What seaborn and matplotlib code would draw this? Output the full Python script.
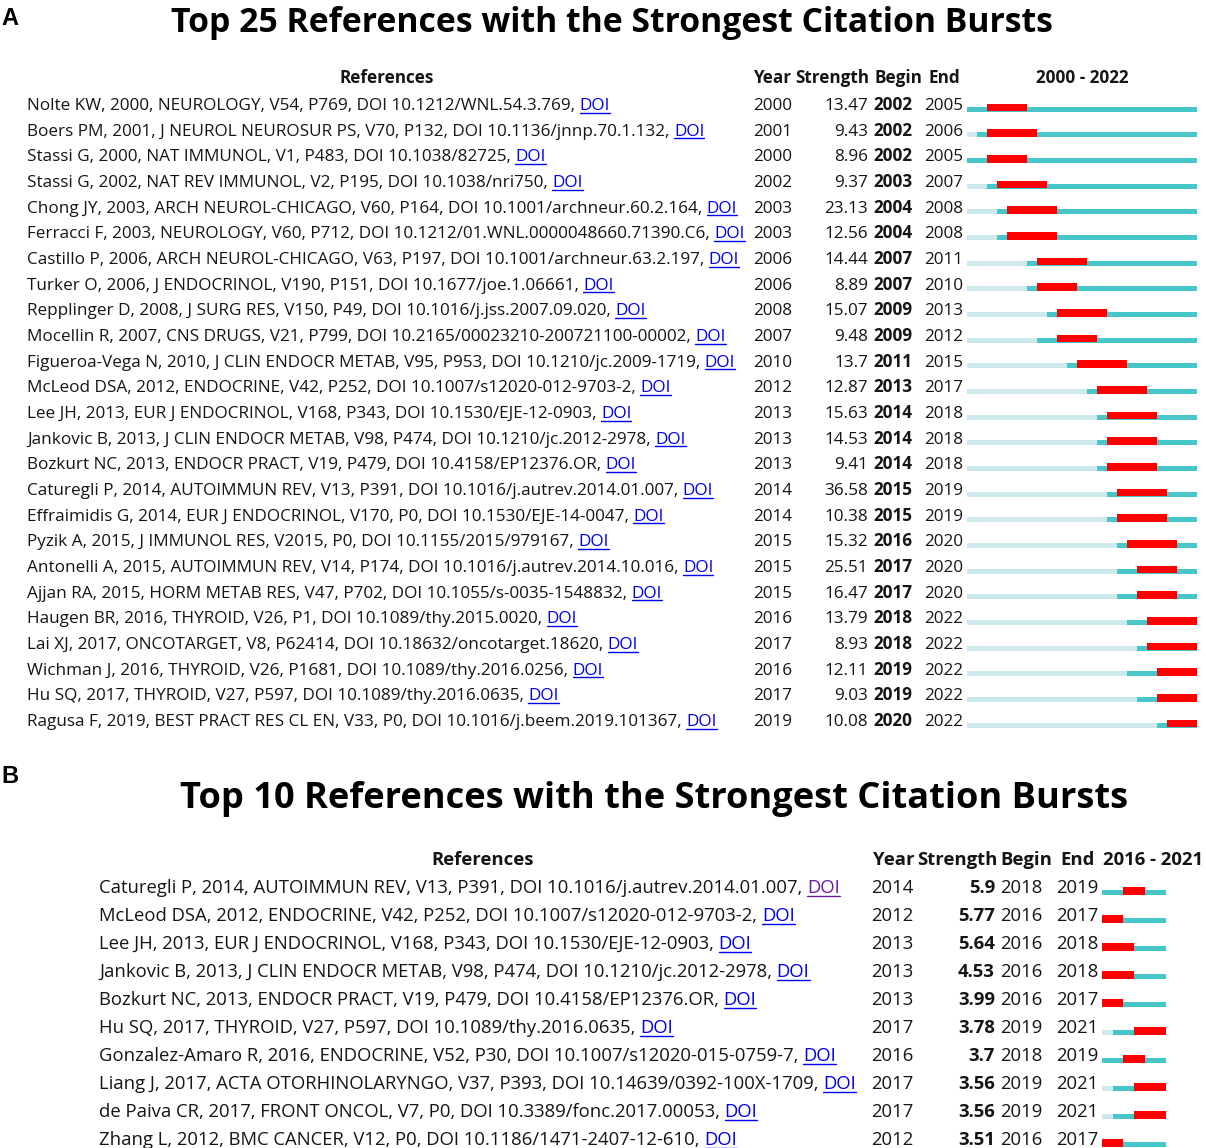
import numpy as np
import matplotlib.pyplot as plt
import seaborn as sns

sns.set_theme(style="white")
plt.rcParams['font.family'] = ['Open Sans', 'DejaVu Sans']

# ---- panel A data: top 25 references, 2000 - 2022
refs_a = [
    "Nolte KW, 2000, NEUROLOGY, V54, P769, DOI 10.1212/WNL.54.3.769",
    "Boers PM, 2001, J NEUROL NEUROSUR PS, V70, P132, DOI 10.1136/jnnp.70.1.132",
    "Stassi G, 2000, NAT IMMUNOL, V1, P483, DOI 10.1038/82725",
    "Stassi G, 2002, NAT REV IMMUNOL, V2, P195, DOI 10.1038/nri750",
    "Chong JY, 2003, ARCH NEUROL-CHICAGO, V60, P164, DOI 10.1001/archneur.60.2.164",
    "Ferracci F, 2003, NEUROLOGY, V60, P712, DOI 10.1212/01.WNL.0000048660.71390.C6",
    "Castillo P, 2006, ARCH NEUROL-CHICAGO, V63, P197, DOI 10.1001/archneur.63.2.197",
    "Turker O, 2006, J ENDOCRINOL, V190, P151, DOI 10.1677/joe.1.06661",
    "Repplinger D, 2008, J SURG RES, V150, P49, DOI 10.1016/j.jss.2007.09.020",
    "Mocellin R, 2007, CNS DRUGS, V21, P799, DOI 10.2165/00023210-200721100-00002",
    "Figueroa-Vega N, 2010, J CLIN ENDOCR METAB, V95, P953, DOI 10.1210/jc.2009-1719",
    "McLeod DSA, 2012, ENDOCRINE, V42, P252, DOI 10.1007/s12020-012-9703-2",
    "Lee JH, 2013, EUR J ENDOCRINOL, V168, P343, DOI 10.1530/EJE-12-0903",
    "Jankovic B, 2013, J CLIN ENDOCR METAB, V98, P474, DOI 10.1210/jc.2012-2978",
    "Bozkurt NC, 2013, ENDOCR PRACT, V19, P479, DOI 10.4158/EP12376.OR",
    "Caturegli P, 2014, AUTOIMMUN REV, V13, P391, DOI 10.1016/j.autrev.2014.01.007",
    "Effraimidis G, 2014, EUR J ENDOCRINOL, V170, P0, DOI 10.1530/EJE-14-0047",
    "Pyzik A, 2015, J IMMUNOL RES, V2015, P0, DOI 10.1155/2015/979167",
    "Antonelli A, 2015, AUTOIMMUN REV, V14, P174, DOI 10.1016/j.autrev.2014.10.016",
    "Ajjan RA, 2015, HORM METAB RES, V47, P702, DOI 10.1055/s-0035-1548832",
    "Haugen BR, 2016, THYROID, V26, P1, DOI 10.1089/thy.2015.0020",
    "Lai XJ, 2017, ONCOTARGET, V8, P62414, DOI 10.18632/oncotarget.18620",
    "Wichman J, 2016, THYROID, V26, P1681, DOI 10.1089/thy.2016.0256",
    "Hu SQ, 2017, THYROID, V27, P597, DOI 10.1089/thy.2016.0635",
    "Ragusa F, 2019, BEST PRACT RES CL EN, V33, P0, DOI 10.1016/j.beem.2019.101367",
]
year_a = [2000, 2001, 2000, 2002, 2003, 2003, 2006, 2006, 2008, 2007, 2010, 2012, 2013,
          2013, 2013, 2014, 2014, 2015, 2015, 2015, 2016, 2017, 2016, 2017, 2019]
strength_a = ["13.47", "9.43", "8.96", "9.37", "23.13", "12.56", "14.44", "8.89", "15.07",
              "9.48", "13.7", "12.87", "15.63", "14.53", "9.41", "36.58", "10.38", "15.32",
              "25.51", "16.47", "13.79", "8.93", "12.11", "9.03", "10.08"]
begin_a = [2002, 2002, 2002, 2003, 2004, 2004, 2007, 2007, 2009, 2009, 2011, 2013, 2014,
           2014, 2014, 2015, 2015, 2016, 2017, 2017, 2018, 2018, 2019, 2019, 2020]
end_a = [2005, 2006, 2005, 2007, 2008, 2008, 2011, 2010, 2013, 2012, 2015, 2017, 2018,
         2018, 2018, 2019, 2019, 2020, 2020, 2020, 2022, 2022, 2022, 2022, 2022]

# ---- panel B data: top 10 references, 2016 - 2021
refs_b = [
    "Caturegli P, 2014, AUTOIMMUN REV, V13, P391, DOI 10.1016/j.autrev.2014.01.007",
    "McLeod DSA, 2012, ENDOCRINE, V42, P252, DOI 10.1007/s12020-012-9703-2",
    "Lee JH, 2013, EUR J ENDOCRINOL, V168, P343, DOI 10.1530/EJE-12-0903",
    "Jankovic B, 2013, J CLIN ENDOCR METAB, V98, P474, DOI 10.1210/jc.2012-2978",
    "Bozkurt NC, 2013, ENDOCR PRACT, V19, P479, DOI 10.4158/EP12376.OR",
    "Hu SQ, 2017, THYROID, V27, P597, DOI 10.1089/thy.2016.0635",
    "Gonzalez-Amaro R, 2016, ENDOCRINE, V52, P30, DOI 10.1007/s12020-015-0759-7",
    "Liang J, 2017, ACTA OTORHINOLARYNGO, V37, P393, DOI 10.14639/0392-100X-1709",
    "de Paiva CR, 2017, FRONT ONCOL, V7, P0, DOI 10.3389/fonc.2017.00053",
    "Zhang L, 2012, BMC CANCER, V12, P0, DOI 10.1186/1471-2407-12-610",
]
year_b = [2014, 2012, 2013, 2013, 2013, 2017, 2016, 2017, 2017, 2012]
strength_b = ["5.9", "5.77", "5.64", "4.53", "3.99", "3.78", "3.7", "3.56", "3.56", "3.51"]
begin_b = [2018, 2016, 2016, 2016, 2016, 2019, 2018, 2019, 2019, 2016]
end_b = [2019, 2017, 2018, 2018, 2017, 2021, 2019, 2021, 2021, 2017]

INK = '#151515'
LINK = '#0000ee'
VISITED = '#6a1b9a'
LIGHT = '#cde9ec'
TEAL = '#48c6c9'
RED = '#ff0000'

W, H = 1206, 1148
fig = plt.figure(figsize=(W / 100, H / 100), dpi=100)
bg = fig.add_axes([0, 0, 1, 1])
bg.set_xlim(0, W)
bg.set_ylim(H, 0)
bg.axis('off')
renderer = fig.canvas.get_renderer()


def text_width(s, size, weight='normal'):
    t = bg.text(0, 0, s, fontsize=size, fontweight=weight)
    w = t.get_window_extent(renderer).width
    t.remove()
    return w


def reference(x, y, ref, size, link):
    # text then an underlined DOI link
    full = ref + ", DOI"
    w_full = text_width(full, size)
    w_doi = text_width("DOI", size)
    bg.text(x, y, ref + ",", fontsize=size, color=INK, va='baseline')
    x0 = x + w_full - w_doi
    bg.text(x0, y, "DOI", fontsize=size, color=link, va='baseline')
    bg.plot([x0, x0 + w_doi], [y + 2.5, y + 2.5], color=link, lw=1)


def timeline(left, right, c0, step, n, start, stop, years, begins, ends, thin, thick, lift):
    top = c0 - 0.5 * step
    ax = fig.add_axes([left / W, 1 - (top + n * step) / H, (right - left) / W, n * step / H])
    rows = np.arange(n)
    yrs = np.clip(np.array(years), start, stop + 1)
    b = np.array(begins)
    e = np.array(ends) + 1
    ax.barh(rows, yrs - start, left=start, height=thin / step, color=LIGHT, linewidth=0)
    ax.barh(rows, stop + 1 - yrs, left=yrs, height=thin / step, color=TEAL, linewidth=0)
    ax.barh(rows - lift / step, e - b, left=b, height=thick / step, color=RED, linewidth=0)
    ax.set_xlim(start, stop + 1)
    ax.set_ylim(n - 0.5, -0.5)
    ax.axis('off')
    ax.patch.set_alpha(0)


# ---------------- panel A
fa = 12.3
bg.text(1, 25, "A", fontsize=17, fontweight='bold', family='Liberation Sans', color='black')
bg.text(612, 32, "Top 25 References with the Strongest Citation Bursts", fontsize=24.3,
        fontweight='bold', color='black', ha='center', va='baseline')
hy = 83
bg.text(387, hy, "References", fontsize=fa, fontweight='bold', color=INK, ha='center', va='baseline')
bg.text(753, hy, "Year", fontsize=fa, fontweight='bold', color=INK, va='baseline')
bg.text(795, hy, "Strength", fontsize=fa, fontweight='bold', color=INK, va='baseline')
bg.text(874, hy, "Begin", fontsize=fa, fontweight='bold', color=INK, va='baseline')
bg.text(929, hy, "End", fontsize=fa, fontweight='bold', color=INK, va='baseline')
bg.text(1082, hy, "2000 - 2022", fontsize=fa, fontweight='bold', color=INK, ha='center', va='baseline')

step_a = 25.67
for i in range(len(refs_a)):
    y = 110 + i * step_a
    reference(27, y, refs_a[i], fa, LINK)
    bg.text(753, y, str(year_a[i]), fontsize=fa, color=INK, va='baseline')
    bg.text(868, y, strength_a[i], fontsize=fa, color=INK, ha='right', va='baseline')
    bg.text(873, y, str(begin_a[i]), fontsize=fa, fontweight='bold', color=INK, va='baseline')
    bg.text(924, y, str(end_a[i]), fontsize=fa, color=INK, va='baseline')

timeline(967, 1197, 109, step_a, len(refs_a), 2000, 2022, year_a, begin_a, end_a,
         5, 7.5, 1.5)

# ---------------- panel B
fb = 13.3
bg.text(1, 783, "B", fontsize=17, fontweight='bold', family='Liberation Sans', color='black')
bg.text(654, 808, "Top 10 References with the Strongest Citation Bursts", fontsize=26.1,
        fontweight='bold', color='black', ha='center', va='baseline')
hy = 865
bg.text(483, hy, "References", fontsize=fb, fontweight='bold', color=INK, ha='center', va='baseline')
bg.text(873, hy, "Year", fontsize=fb, fontweight='bold', color=INK, va='baseline')
bg.text(917, hy, "Strength", fontsize=fb, fontweight='bold', color=INK, va='baseline')
bg.text(1000, hy, "Begin", fontsize=fb, fontweight='bold', color=INK, va='baseline')
bg.text(1060, hy, "End", fontsize=fb, fontweight='bold', color=INK, va='baseline')
bg.text(1103, hy, "2016 - 2021", fontsize=fb, fontweight='bold', color=INK, va='baseline')

step_b = 28
for i in range(len(refs_b)):
    y = 893 + i * step_b
    reference(99, y, refs_b[i], fb, VISITED if i == 0 else LINK)
    bg.text(871, y, str(year_b[i]), fontsize=fb, color=INK, va='baseline')
    bg.text(995, y, strength_b[i], fontsize=fb, fontweight='bold', color=INK, ha='right', va='baseline')
    bg.text(1000, y, str(begin_b[i]), fontsize=fb, color=INK, va='baseline')
    bg.text(1056, y, str(end_b[i]), fontsize=fb, color=INK, va='baseline')

timeline(1102, 1166, 892, step_b, len(refs_b), 2016, 2021, year_b, begin_b, end_b,
         5, 8.3, 1)

fig.savefig('out.png', dpi=100, facecolor='white')
